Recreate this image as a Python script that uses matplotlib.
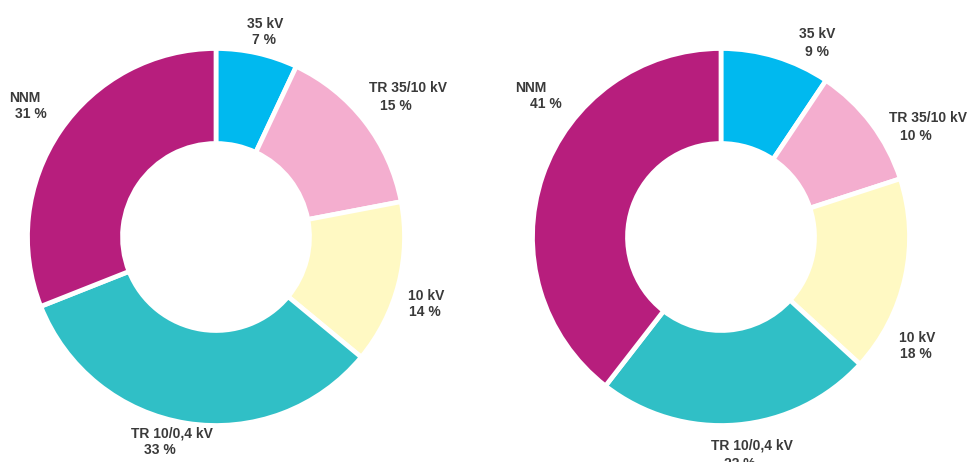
import matplotlib
matplotlib.use("Agg")
import matplotlib.pyplot as plt

# ---- data ----
categories = ["35 kV", "TR 35/10 kV", "10 kV", "TR 10/0,4 kV", "NNM"]
left_values = [7, 15, 14, 33, 31]
right_values = [9, 10, 18, 22, 41]
# wedge sizes as actually drawn in the right-hand ring
right_drawn = [9.4, 10.6, 16.8, 23.7, 39.5]
colors = ["#00B9EF", "#F4AECF", "#FFF9C3", "#30BFC6", "#B71E7D"]

# ---- layout (pixel units, y measured from top) ----
W, H = 971, 462
centers = [(216, 237), (721, 237)]
R_OUT = 188.5
RING = 95
EDGE_LW = 3.4

# label line centres (name line, percent line) offsets from the donut centre
left_label_pos = [
    ((49, -214), (48, -198)),
    ((192, -149), (180, -132)),
    ((210, 58), (209, 75)),
    ((-44, 196), (-56, 213)),
    ((-191, -140), (-185, -124)),
]
right_label_pos = [
    ((96, -204), (96, -186)),
    ((207, -119), (195, -102)),
    ((196, 100), (195, 116)),
    ((31, 208), (19, 226)),
    ((-190, -150), (-175, -133)),
]

plt.rcParams["font.family"] = ["Liberation Sans", "DejaVu Sans"]

fig = plt.figure(figsize=(W / 100, H / 100), dpi=100)
ax = fig.add_axes([0, 0, 1, 1])

text_kw = dict(fontsize=10, fontweight="bold", color="#3a3a3a",
               ha="center", va="baseline")

for (cx, cy), drawn, values, label_pos in zip(
        centers, [left_values, right_drawn], [left_values, right_values],
        [left_label_pos, right_label_pos]):
    ax.pie(drawn, colors=colors, startangle=90, counterclock=False,
           radius=R_OUT, center=(cx, H - cy), frame=True,
           wedgeprops=dict(width=RING, edgecolor="white", linewidth=EDGE_LW))
    for cat, val, ((nx, ny), (px, py)) in zip(categories, values, label_pos):
        ax.text(cx + nx, H - (cy + ny) - 4.5, cat, **text_kw)
        ax.text(cx + px, H - (cy + py) - 4.5, f"{val} %", **text_kw)

ax.set_xlim(0, W)
ax.set_ylim(0, H)
ax.set_aspect("equal")
ax.axis("off")
fig.savefig("out.png", dpi=100)
